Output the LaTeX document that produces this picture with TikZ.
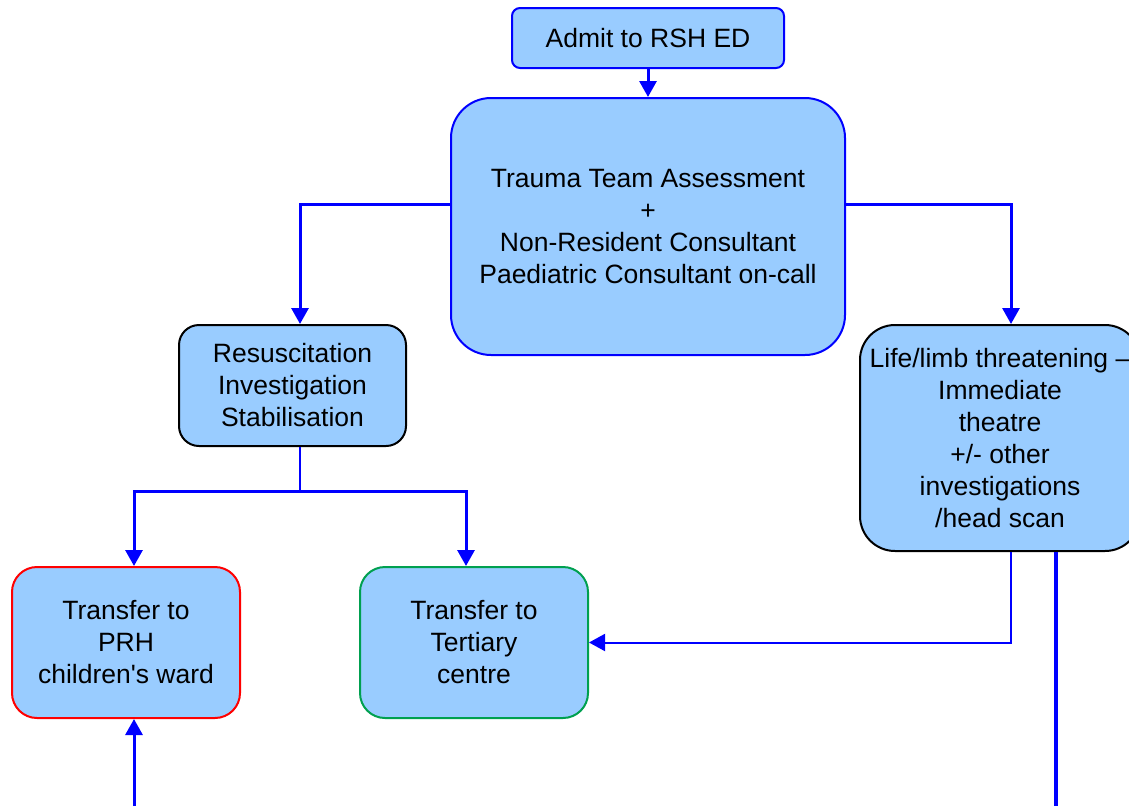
\documentclass[tikz,border=0pt]{standalone}
\usepackage{fontspec}
\setmainfont{Liberation Sans}
\usetikzlibrary{arrows.meta}
\definecolor{boxfill}{HTML}{99CCFF}
\definecolor{tgreen}{HTML}{00A050}
\tikzset{
  box/.style={draw, line width=2pt, fill=boxfill, align=center, inner sep=0pt,
    font=\fontsize{26.5}{32}\selectfont},
  tip/.style={-{Triangle[width=17pt,length=16pt]}},
  conn/.style={draw=blue, line width=3pt, tip},
  thinconn/.style={draw=blue, line width=2pt},
}
\begin{document}
\begin{tikzpicture}[x=1pt,y=-1pt]
\useasboundingbox (0,0) rectangle (1129,806);
\fill[white] (0,0) rectangle (1129,806);
\clip (0,0) rectangle (1129,806);

\node[box, draw=blue, rounded corners=8pt, minimum width=272pt, minimum height=60pt] (admit) at (648,38) {Admit to RSH ED};
\node[box, draw=blue, rounded corners=40pt, minimum width=394pt, minimum height=257pt] (trauma) at (648,226.5)
  {Trauma Team Assessment\\+\\Non-Resident Consultant\\Paediatric Consultant on-call};
\node[box, draw=black, rounded corners=20pt, minimum width=227pt, minimum height=121pt] (resus) at (292.5,385.5)
  {Resuscitation\\Investigation\\Stabilisation};
\node[box, draw=black, rounded corners=35pt, minimum width=280pt, minimum height=226pt] (life) at (1000,438)
  {Life/limb threatening --\\Immediate\\theatre\\+/- other\\investigations\\/head scan};
\node[box, draw=red, rounded corners=25pt, minimum width=228pt, minimum height=151pt] (prh) at (126,642.5)
  {Transfer to\\PRH\\children\textquotesingle s ward};
\node[box, draw=tgreen, rounded corners=25pt, minimum width=228pt, minimum height=151pt] (tert) at (474,642.5)
  {Transfer to\\Tertiary\\centre};

\coordinate (split) at (300,491);
\coordinate (pbot) at (134,806);
\coordinate (rbot) at (1056,806);

\draw[conn] (admit.south) -- (trauma.north);
\draw[conn] ([yshift=22.5pt]trauma.west) -| ([xshift=7.5pt]resus.north);
\draw[conn] ([yshift=22.5pt]trauma.east) -| ([xshift=11pt]life.north);
\draw[thinconn] ([xshift=7.5pt]resus.south) -- (split);
\draw[conn] (split) -| ([xshift=8pt]prh.north);
\draw[conn] (split) -| ([xshift=-8pt]tert.north);
\draw[thinconn, tip] ([xshift=11pt]life.south) |- (tert.east);
\draw[draw=blue, line width=3.5pt] ([xshift=56pt]life.south) -- (rbot);
\draw[conn] (pbot) -- ([xshift=8pt]prh.south);
\end{tikzpicture}
\end{document}
